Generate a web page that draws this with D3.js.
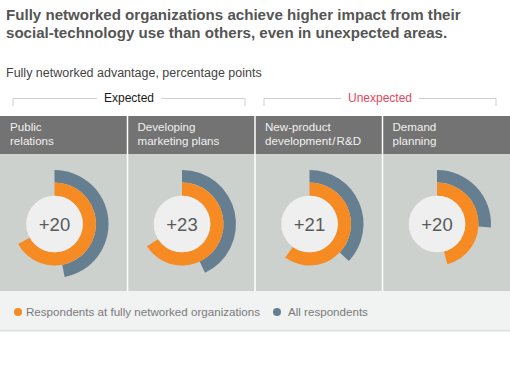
<!DOCTYPE html>
<html>
<head>
<meta charset="utf-8">
<script src="https://cdn.jsdelivr.net/npm/d3@7"></script>
<style>
  html, body { margin: 0; padding: 0; background: #fff; }
  svg { display: block; font-family: "Liberation Sans", Arial, Helvetica, sans-serif; }
</style>
</head>
<body>
<svg id="chart" width="510" height="366"></svg>
<script>
// ---- data ----
const titleLines = ["Fully networked organizations achieve higher impact from their",
                    "social-technology use than others, even in unexpected areas."];
const subtitle = "Fully networked advantage, percentage points";
const groups = ["Expected", "Unexpected"];
const groupColors = ["#1a1a1a", "#e0475a"];
const categoryLines = [["Public", "relations"],
                       ["Developing", "marketing plans"],
                       ["New-product", "development\u200a/\u200aR&D"],
                       ["Demand", "planning"]];
const fullyNetworked = [67, 66, 60, 46];   // % respondents at fully networked orgs
const allRespondents = [47, 43, 37, 26];   // % all respondents
const advantage = ["+20", "+23", "+21", "+20"];
const seriesNames = ["Respondents at fully networked organizations", "All respondents"];
const seriesColors = ["#f68b23", "#667f90"];

// ---- layout ----
const W = 510;
const svg = d3.select("#chart");

// title
svg.append("g").selectAll("text").data(titleLines).join("text")
  .attr("x", 6).attr("y", (d, i) => 20 + i * 18)
  .attr("font-size", 15.1).attr("font-weight", "bold").attr("fill", "#555")
  .text(d => d);

svg.append("text").attr("x", 6).attr("y", 77)
  .attr("font-size", 12.5).attr("fill", "#444").text(subtitle);

// panels
const x = d3.scaleBand().domain(d3.range(categoryLines.length)).range([0, W]);
const pw = x.bandwidth();

// group brackets
const gx = d3.scaleBand().domain(groups).range([0, W]);
const bracket = svg.append("g").selectAll("g").data(groups).join("g");
bracket.each(function(d, i) {
  const g = d3.select(this);
  const x0 = gx(d) + 13 + (i ? -4 : 0), x1 = gx(d) + gx.bandwidth() - 10 + (i ? -4 : 0);
  const cx = (x0 + x1) / 2;
  const t = g.append("text").attr("x", cx).attr("y", 102).attr("text-anchor", "middle")
    .attr("font-size", 12).attr("fill", groupColors[i]).text(d);
  const tw = t.node().getComputedTextLength();
  g.append("path").attr("fill", "none").attr("stroke", "#cfcfcf").attr("stroke-width", 1)
    .attr("d", `M${x0},106V98.5H${cx - tw / 2 - 7}M${cx + tw / 2 + 7},98.5H${x1}V106`);
});

// headers
const header = svg.append("g");
header.selectAll("rect").data(categoryLines).join("rect")
  .attr("x", (d, i) => x(i)).attr("y", 116).attr("width", pw).attr("height", 38)
  .attr("fill", "#737373");
header.selectAll("text").data(categoryLines).join("text")
  .attr("font-size", 11.6).attr("fill", "#f0f0f0")
  .each(function(d, i) {
    d3.select(this).selectAll("tspan").data(d).join("tspan")
      .attr("x", x(i) + 10).attr("y", (t, j) => 131 + j * 13.5).text(t => t);
  });

// panel bodies
svg.append("g").selectAll("rect").data(categoryLines).join("rect")
  .attr("x", (d, i) => x(i)).attr("y", 154).attr("width", pw).attr("height", 137)
  .attr("fill", "#cdd1ce");

// dividers
svg.append("g").selectAll("line").data(d3.range(1, categoryLines.length)).join("line")
  .attr("x1", d => x(d)).attr("x2", d => x(d)).attr("y1", 116).attr("y2", 291)
  .attr("stroke", "#fff").attr("stroke-width", 1.5);

// donuts
const angle = d3.scaleLinear().domain([0, 100]).range([0, 2 * Math.PI]);
const rInner = 28.3, rMid = 41.5, rOuter = 54;
const arcOrange = d3.arc().innerRadius(rInner).outerRadius(rMid).startAngle(0);
const arcBlue = d3.arc().innerRadius(rMid).outerRadius(rOuter).startAngle(0);

const donut = svg.append("g").selectAll("g").data(categoryLines).join("g")
  .attr("transform", (d, i) => `translate(${x(i) + 54.5},224)`);
donut.append("path").attr("fill", seriesColors[1])
  .attr("d", (d, i) => arcBlue({endAngle: angle(allRespondents[i])}));
donut.append("path").attr("fill", seriesColors[0])
  .attr("d", (d, i) => arcOrange({endAngle: angle(fullyNetworked[i])}));
donut.append("circle").attr("r", rInner).attr("fill", "#efefef");
donut.append("text").attr("text-anchor", "middle").attr("y", 6.5)
  .attr("font-size", 18.5).attr("fill", "#5a5a5a").text((d, i) => advantage[i]);

// legend
svg.append("rect").attr("x", 0).attr("y", 291).attr("width", W).attr("height", 39)
  .attr("fill", "#f1f2f2");
svg.append("rect").attr("x", 0).attr("y", 330).attr("width", W).attr("height", 1.5)
  .attr("fill", "#dedfdf");
const legendX = [18, 277];
const leg = svg.append("g").selectAll("g").data(seriesNames).join("g")
  .attr("transform", (d, i) => `translate(${legendX[i]},312)`);
leg.append("circle").attr("r", 4).attr("fill", (d, i) => seriesColors[i]);
leg.append("text").attr("x", (d, i) => i ? 11 : 8).attr("y", 4)
  .attr("font-size", 11.6).attr("fill", "#7a7a7a").text(d => d);
</script>
</body>
</html>
